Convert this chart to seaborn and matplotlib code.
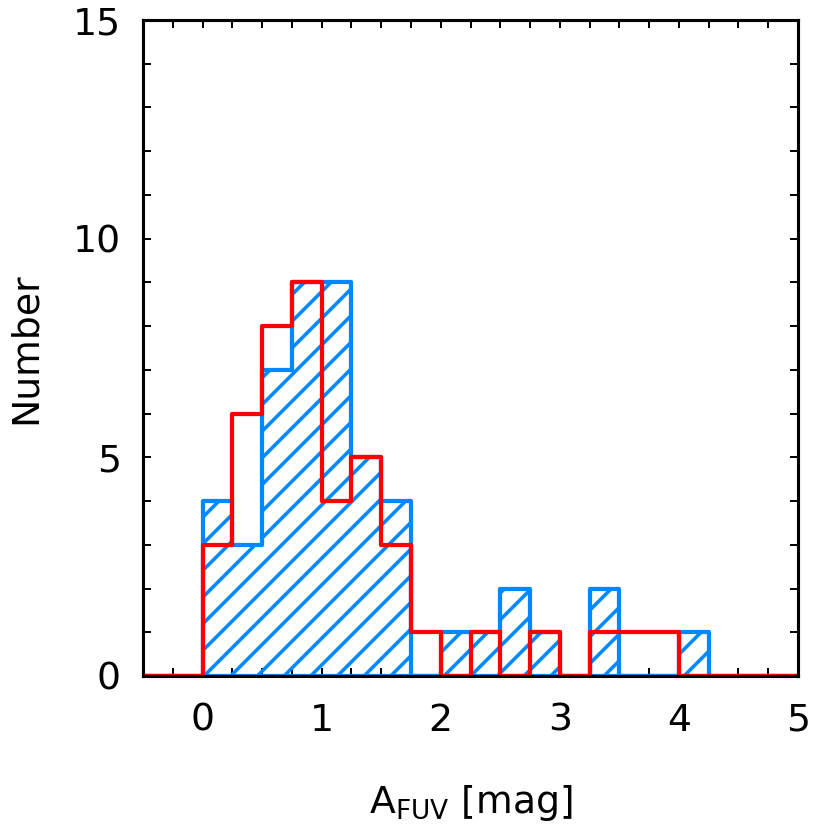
import numpy as np
import pandas as pd
import matplotlib
matplotlib.use("Agg")
import matplotlib.pyplot as plt
import seaborn as sns

# bins of 0.25 mag from -0.5 to 5.0
bin_edges = [round(-0.5 + 0.25 * i, 2) for i in range(23)]
bin_centers = [e + 0.125 for e in bin_edges[:-1]]

# counts, one per bin
blue_counts = [0, 0, 4, 3, 7, 9, 9, 5, 4, 0, 1, 1, 2, 1, 0, 2, 0, 0, 1, 0, 0, 0]
red_counts = [0, 0, 3, 6, 8, 9, 4, 5, 3, 1, 0, 1, 0, 1, 0, 1, 1, 1, 0, 0, 0, 0]

df = pd.DataFrame({"afuv": bin_centers, "blue": blue_counts, "red": red_counts})

BLUE = "#0088ff"
RED = "#ff0000"
DPI = 160

sns.set_theme(style="ticks")
plt.rcParams["font.family"] = ["DejaVu Sans"]
plt.rcParams["hatch.color"] = BLUE
plt.rcParams["hatch.linewidth"] = 1.6
plt.rcParams["text.color"] = "black"
plt.rcParams["axes.labelcolor"] = "black"
plt.rcParams["xtick.color"] = "black"
plt.rcParams["ytick.color"] = "black"

fig = plt.figure(figsize=(814 / DPI, 839 / DPI), dpi=DPI)
ax = fig.add_axes([143 / 814, 1 - 676 / 839, (798 - 143) / 814, (676 - 20) / 839])

# blue: hatched step histogram
sns.histplot(data=df, x="afuv", weights="blue", bins=bin_edges, element="step",
             fill=True, color=BLUE, linewidth=1.9, ax=ax, zorder=2)
poly = ax.collections[-1]
poly.set_facecolor("none")
poly.set_edgecolor(BLUE)
poly.set_hatch("//")

# red: open step outline on top
sns.histplot(data=df, x="afuv", weights="red", bins=bin_edges, element="step",
             fill=False, color=RED, linewidth=1.9, ax=ax, zorder=3)

ax.set_xlim(-0.5, 5)
ax.set_ylim(0, 15)
ax.set_xticks([0, 1, 2, 3, 4, 5])
ax.set_xticks(np.arange(-0.5, 5.01, 0.25), minor=True)
ax.set_yticks([0, 5, 10, 15])
ax.set_yticks(np.arange(0, 15.01, 1), minor=True)

ax.tick_params(which="both", direction="in", top=True, right=True,
               length=3.6, width=0.9, color="black")
ax.tick_params(axis="x", which="major", labelsize=17, pad=12, labelcolor="black")
ax.tick_params(axis="y", which="major", labelsize=17, pad=10, labelcolor="black")
for s in ax.spines.values():
    s.set_linewidth(1.4)
    s.set_color("black")
    s.set_zorder(5)

ax.set_xlabel(r"$\mathregular{A_{FUV}}$ [mag]", fontsize=17, labelpad=20)
ax.set_ylabel("Number", fontsize=17, labelpad=13)

fig.savefig("out.png", dpi=DPI)
